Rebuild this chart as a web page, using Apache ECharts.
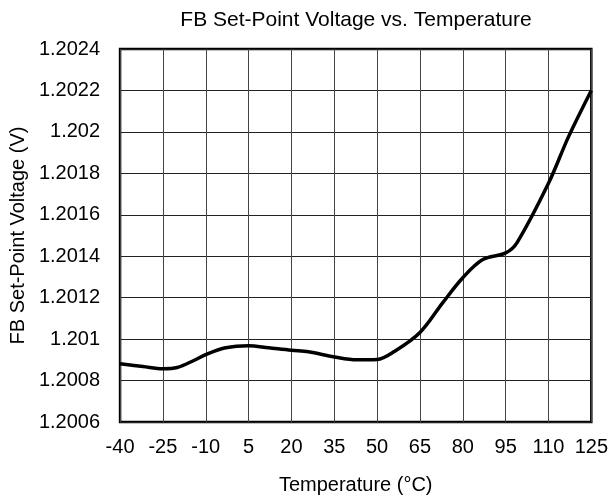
<!DOCTYPE html>
<html>
<head>
<meta charset="utf-8">
<script src="https://cdn.jsdelivr.net/npm/echarts@6/dist/echarts.min.js"></script>
<style>
  html, body { margin: 0; padding: 0; background: #fff; }
  #chart { width: 611px; height: 500px; }
</style>
</head>
<body>
<div id="chart"></div>
<script>
// temperature (°C) and FB set-point voltage (V)
const temps = [-40, -32, -25, -20, -14, -10, -3, 5, 12, 20, 26, 35, 43, 50, 56, 65, 73, 80, 87, 95, 99, 110, 117, 125];
const volts = [
  1.200881, 1.200868, 1.200857, 1.200863, 1.200898, 1.200925, 1.200958, 1.200968, 1.200958,
  1.200946, 1.200939, 1.200914, 1.200900, 1.200902, 1.200940, 1.201032, 1.201176, 1.201296,
  1.201384, 1.201416, 1.201466, 1.201752, 1.201976, 1.2022
];
const xTickLabels = ['-40', '-25', '-10', '5', '20', '35', '50', '65', '80', '95', '110', '125'];

// x axis is counted from 0 so that the 15-degree ticks start at -40
const T_OFFSET = 40;
const seriesData = temps.map((t, i) => [t + T_OFFSET, volts[i]]);

const font = 'Liberation Sans, Arial, sans-serif';
const chart = echarts.init(document.getElementById('chart'));

chart.setOption({
  animation: false,
  title: {
    text: 'FB Set-Point Voltage vs. Temperature',
    left: 351,
    top: 5,
    textAlign: 'center',
    textStyle: { fontFamily: font, fontSize: 21, fontWeight: 'normal', color: '#000' }
  },
  grid: {
    left: 119,
    right: 19,
    top: 49,
    bottom: 77,
    show: true,
    borderColor: '#000',
    borderWidth: 2.5,
    containLabel: false
  },
  xAxis: {
    type: 'value',
    min: 0,
    max: 165,
    interval: 15,
    name: 'Temperature (°C)',
    nameLocation: 'middle',
    nameGap: 53,
    nameTextStyle: { fontFamily: font, fontSize: 20, color: '#000' },
    axisLine: { show: false },
    axisTick: { show: false },
    axisLabel: {
      margin: 15,
      fontFamily: font,
      fontSize: 20,
      color: '#000',
      formatter: (v) => xTickLabels[Math.round(v / 15)]
    },
    splitLine: { show: true, lineStyle: { color: '#444', width: 1 } }
  },
  yAxis: {
    type: 'value',
    min: 1.2006,
    max: 1.2024,
    interval: 0.0002,
    name: 'FB Set-Point Voltage (V)',
    nameLocation: 'middle',
    nameGap: 92,
    nameTextStyle: { fontFamily: font, fontSize: 20, color: '#000' },
    axisLine: { show: false },
    axisTick: { show: false },
    axisLabel: {
      margin: 20,
      fontFamily: font,
      fontSize: 20,
      color: '#000',
      formatter: (v) => String(+v.toFixed(4))
    },
    splitLine: { show: true, lineStyle: { color: '#222', width: 1 } }
  },
  series: [{
    type: 'line',
    data: seriesData,
    smooth: 0.35,
    symbol: 'none',
    lineStyle: { color: '#000', width: 3.5 }
  }]
});
</script>
</body>
</html>
